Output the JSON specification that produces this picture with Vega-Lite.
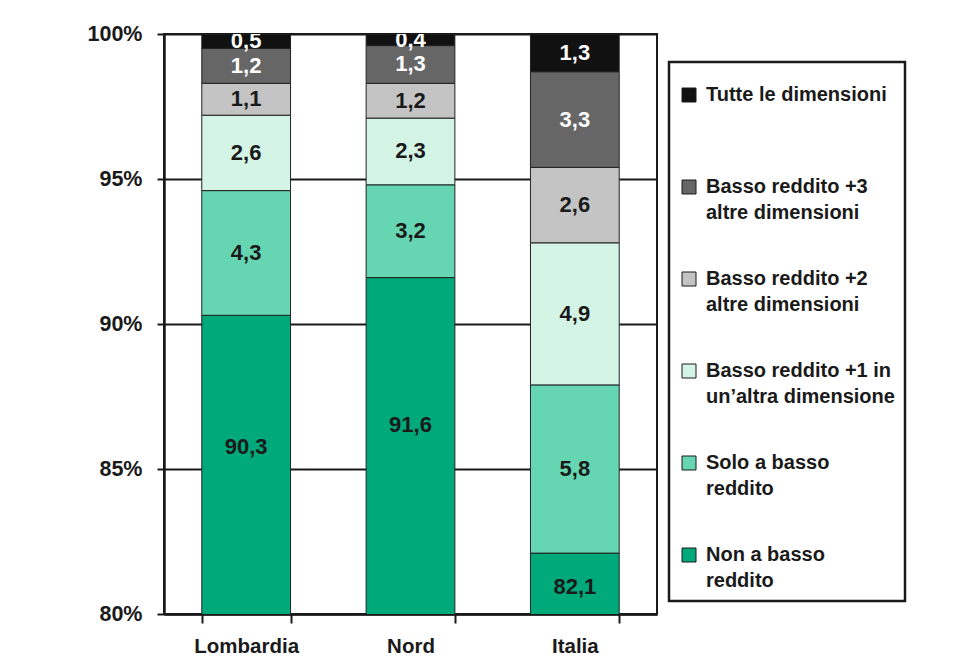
{
  "$schema": "https://vega.github.io/schema/vega-lite/v6.json",
  "width": 493,
  "height": 580,
  "autosize": {"type": "none"},
  "padding": {"left": 164, "top": 34, "right": 310, "bottom": 49},
  "background": "white",
  "config": {
    "font": "Liberation Sans",
    "locale": {"number": {"decimal": ",", "thousands": ".", "grouping": [3], "currency": ["", " €"]}},
    "view": {"stroke": "#1a1a1a", "strokeWidth": 2},
    "axis": {"labelFont": "Liberation Sans", "labelFontWeight": "bold", "labelColor": "#1a1a1a", "domainColor": "#1a1a1a", "tickColor": "#1a1a1a"},
    "legend": {"strokeWidth": 2.5},
    "style": {"guide-label": {"lineHeight": 26}}
  },
  "resolve": {"scale": {"y": "independent"}},
  "data": {
    "values": [
      {"area": "Lombardia", "cat": "Non a basso reddito", "k": 1, "v": 90.3},
      {"area": "Lombardia", "cat": "Solo a basso reddito", "k": 2, "v": 4.3},
      {"area": "Lombardia", "cat": "Basso reddito +1 in un’altra dimensione", "k": 3, "v": 2.6},
      {"area": "Lombardia", "cat": "Basso reddito +2 altre dimensioni", "k": 4, "v": 1.1},
      {"area": "Lombardia", "cat": "Basso reddito +3 altre dimensioni", "k": 5, "v": 1.2},
      {"area": "Lombardia", "cat": "Tutte le dimensioni", "k": 6, "v": 0.5},
      {"area": "Nord", "cat": "Non a basso reddito", "k": 1, "v": 91.6},
      {"area": "Nord", "cat": "Solo a basso reddito", "k": 2, "v": 3.2},
      {"area": "Nord", "cat": "Basso reddito +1 in un’altra dimensione", "k": 3, "v": 2.3},
      {"area": "Nord", "cat": "Basso reddito +2 altre dimensioni", "k": 4, "v": 1.2},
      {"area": "Nord", "cat": "Basso reddito +3 altre dimensioni", "k": 5, "v": 1.3},
      {"area": "Nord", "cat": "Tutte le dimensioni", "k": 6, "v": 0.4},
      {"area": "Italia", "cat": "Non a basso reddito", "k": 1, "v": 82.1},
      {"area": "Italia", "cat": "Solo a basso reddito", "k": 2, "v": 5.8},
      {"area": "Italia", "cat": "Basso reddito +1 in un’altra dimensione", "k": 3, "v": 4.9},
      {"area": "Italia", "cat": "Basso reddito +2 altre dimensioni", "k": 4, "v": 2.6},
      {"area": "Italia", "cat": "Basso reddito +3 altre dimensioni", "k": 5, "v": 3.3},
      {"area": "Italia", "cat": "Tutte le dimensioni", "k": 6, "v": 1.3}
    ]
  },
  "layer": [
    {
      "mark": {"type": "bar", "stroke": "#222222", "strokeWidth": 1, "clip": true},
      "encoding": {
        "x": {
          "field": "area", "type": "nominal", "sort": ["Lombardia", "Nord", "Italia"],
          "scale": {"paddingInner": 0.46, "paddingOuter": 0.23},
          "title": null,
          "axis": {"labelAngle": 0, "labelFontSize": 20.5, "labelPadding": 13, "tickSize": 9, "tickWidth": 2, "tickBand": "extent", "domainWidth": 2.5, "grid": false}
        },
        "y": {
          "field": "v", "type": "quantitative", "stack": "zero",
          "scale": {"domain": [80, 100], "nice": false, "zero": false},
          "title": null,
          "axis": {"values": [80, 85, 90, 95, 100], "labelExpr": "datum.value + '%'", "grid": true, "gridColor": "#1a1a1a", "gridWidth": 2, "gridOpacity": 1, "tickSize": 7, "tickWidth": 2, "domainWidth": 2.5, "labelFontSize": 21.5, "labelPadding": 15}
        },
        "color": {
          "field": "cat", "type": "nominal",
          "scale": {
            "domain": ["Tutte le dimensioni", "Basso reddito +3 altre dimensioni", "Basso reddito +2 altre dimensioni", "Basso reddito +1 in un’altra dimensione", "Solo a basso reddito", "Non a basso reddito"],
            "range": ["#111111", "#666666", "#c4c4c4", "#d4f5e6", "#66d6b2", "#00a97a"]
          },
          "legend": {
            "orient": "none", "legendX": 505, "legendY": 28,
            "title": " ", "titleFontSize": 10, "titlePadding": 3,
            "padding": 10, "strokeColor": "#1a1a1a", "fillColor": "white",
            "symbolType": "square", "symbolSize": 196, "symbolStrokeColor": "#1a1a1a", "symbolStrokeWidth": 1, "symbolOpacity": 1,
            "labelFontSize": 20, "labelFontWeight": "bold", "labelColor": "#1a1a1a", "labelOffset": 7,
            "labelBaseline": "middle", "labelLimit": 300, "rowPadding": 46,
            "labelExpr": "datum.label == 'Tutte le dimensioni' ? ['Tutte le dimensioni', ''] : datum.label == 'Basso reddito +3 altre dimensioni' ? ['Basso reddito +3', 'altre dimensioni'] : datum.label == 'Basso reddito +2 altre dimensioni' ? ['Basso reddito +2', 'altre dimensioni'] : datum.label == 'Basso reddito +1 in un’altra dimensione' ? ['Basso reddito +1 in', 'un’altra dimensione'] : datum.label == 'Solo a basso reddito' ? ['Solo a basso', 'reddito'] : ['Non a basso', 'reddito']"
          }
        },
        "order": {"field": "k", "type": "quantitative"}
      }
    },
    {
      "mark": {"type": "text", "fontSize": 22, "fontWeight": "bold", "baseline": "middle", "clip": true},
      "encoding": {
        "x": {"field": "area", "type": "nominal", "sort": ["Lombardia", "Nord", "Italia"], "title": null},
        "y": {"field": "v", "type": "quantitative", "stack": "zero", "bandPosition": 0.5, "title": null, "axis": null, "scale": {"domain": [80, 100], "nice": false, "zero": false}},
        "detail": {"field": "cat"},
        "order": {"field": "k", "type": "quantitative"},
        "text": {"field": "v", "type": "quantitative", "format": ".1f"},
        "color": {"condition": {"test": "datum.k >= 5", "value": "white"}, "value": "#1a1a1a"}
      }
    },
    {
      "transform": [{"filter": "datum.k == 1"}],
      "mark": {"type": "text", "fontSize": 22, "fontWeight": "bold", "baseline": "middle", "color": "#1a1a1a"},
      "encoding": {
        "x": {"field": "area", "type": "nominal", "sort": ["Lombardia", "Nord", "Italia"], "title": null},
        "y": {"field": "v", "type": "quantitative", "stack": null, "title": null, "axis": null, "scale": {"domain": [80.5, 114.5], "nice": false, "zero": false}},
        "text": {"field": "v", "type": "quantitative", "format": ".1f"}
      }
    }
  ]
}
